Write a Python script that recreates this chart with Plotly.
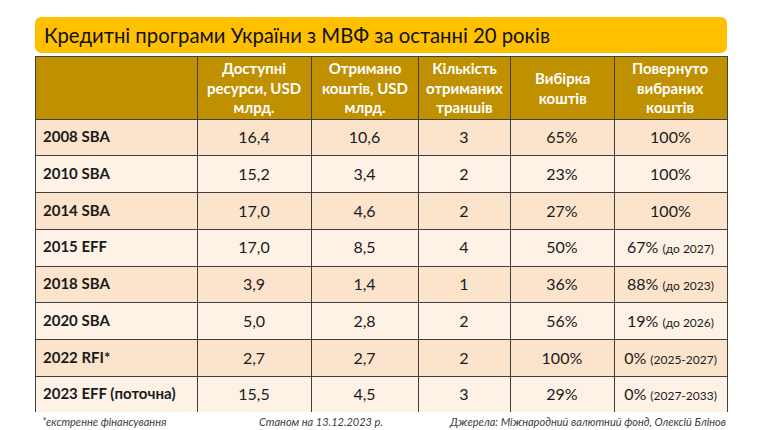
import plotly.graph_objects as go

# Кредитні програми МВФ
programs = ["2008 SBA", "2010 SBA", "2014 SBA", "2015 EFF", "2018 SBA", "2020 SBA", "2022 RFI*", "2023 EFF (поточна)"]
available = [16.4, 15.2, 17.0, 17.0, 3.9, 5.0, 2.7, 15.5]
received = [10.6, 3.4, 4.6, 8.5, 1.4, 2.8, 2.7, 4.5]
tranches = [3, 2, 2, 4, 1, 2, 2, 3]
drawn_pct = [65, 23, 27, 50, 36, 56, 100, 29]
repaid_pct = [100, 100, 100, 67, 88, 19, 0, 0]
repaid_note = ["", "", "", "до 2027", "до 2023", "до 2026", "2025-2027", "2027-2033"]

headers = ["", "Доступні<br>ресурси, USD<br>млрд.", "Отримано<br>коштів, USD<br>млрд.",
           "Кількість<br>отриманих<br>траншів", "Вибірка<br>коштів", "Повернуто<br>вибраних<br>коштів"]

def ua(v):
    return f"{v:.1f}".replace(".", ",")

col_repaid = []
for p, n in zip(repaid_pct, repaid_note):
    s = f"{p}%"
    if n:
        s += f" <span style='font-size:12px'>({n})</span>"
    col_repaid.append(s)

columns = [
    [f"<b>{p}</b>" for p in programs],
    [ua(v) for v in available],
    [ua(v) for v in received],
    [str(t) for t in tranches],
    [f"{d}%" for d in drawn_pct],
    col_repaid,
]
# <br> в кінці вимикає автоперенос таблиці (інакше span ріжеться по пробілах)
columns = [[c + "<br>" for c in col] for col in columns]

row_colors = ["#FCE4CC" if i % 2 == 0 else "#FEF2E7" for i in range(len(programs))]

W, H = 764, 430
x0, x1 = 35, 727
y_top, y_bot = 56, 413
head_h = 63
widths = [162, 114, 107, 92, 104, 113]
row_h = (y_bot - y_top - head_h) / len(programs)

fig = go.Figure(go.Table(
    domain=dict(x=[x0 / W, x1 / W], y=[1 - y_bot / H, 1 - y_top / H]),
    columnwidth=widths,
    header=dict(
        values=[""] * len(headers),
        fill_color="#BF9000",
        line=dict(color="#3F3F3F", width=1),
        height=head_h,
    ),
    cells=dict(
        values=columns,
        fill_color=[row_colors] * 6,
        line=dict(color="#3F3F3F", width=1),
        align=["left", "center", "center", "center", "center", "center"],
        font=dict(family="Lato", size=[15, 16, 16, 16, 16, 16], color="#1A1A1A"),
        height=row_h,
    ),
))

# заголовки колонок
left = x0
for w, h in zip(widths, headers):
    if h:
        fig.add_annotation(x=(left + w / 2) / W, y=1 - (y_top + head_h / 2) / H, xref="paper", yref="paper",
                           xanchor="center", yanchor="middle", align="center", showarrow=False,
                           text=f"<b>{h}</b>", font=dict(family="Lato", size=15, color="white"))
    left += w

# жовта плашка заголовка із заокругленими кутами
bt, bb, r = 17, 53, 7
def px(x):
    return x / W
def py(y):
    return 1 - y / H
path = (f"M {px(x0 + r)},{py(bt)} L {px(x1 - r)},{py(bt)} Q {px(x1)},{py(bt)} {px(x1)},{py(bt + r)} "
        f"L {px(x1)},{py(bb - r)} Q {px(x1)},{py(bb)} {px(x1 - r)},{py(bb)} "
        f"L {px(x0 + r)},{py(bb)} Q {px(x0)},{py(bb)} {px(x0)},{py(bb - r)} "
        f"L {px(x0)},{py(bt + r)} Q {px(x0)},{py(bt)} {px(x0 + r)},{py(bt)} Z")
fig.add_shape(type="path", xref="paper", yref="paper", path=path,
              fillcolor="#FFC000", line=dict(width=0), layer="below")
fig.add_annotation(x=42 / W, y=1 - 35 / H, xref="paper", yref="paper", xanchor="left", yanchor="middle",
                   text="Кредитні програми України з МВФ за останні 20 років", showarrow=False,
                   font=dict(family="Lato", size=20.3, color="#111111"))

foot = dict(family="Lato", size=11, color="#404040")
fig.add_annotation(x=40 / W, y=1 - 421 / H, xref="paper", yref="paper", xanchor="left", yanchor="middle",
                   text="<i>*екстренне фінансування</i>", showarrow=False, font=foot)
fig.add_annotation(x=321 / W, y=1 - 421 / H, xref="paper", yref="paper", xanchor="center", yanchor="middle",
                   text="<i>Станом на 13.12.2023 р.</i>", showarrow=False, font=foot)
fig.add_annotation(x=728 / W, y=1 - 421 / H, xref="paper", yref="paper", xanchor="right", yanchor="middle",
                   text="<i>Джерела: Міжнародний валютний фонд, Олексій Блінов</i>", showarrow=False, font=foot)

fig.update_layout(width=W, height=H, margin=dict(l=0, r=0, t=0, b=0),
                  paper_bgcolor="white", plot_bgcolor="white")

fig.write_html("out.html", config={"displayModeBar": False},
               post_script="document.body.style.margin='0';")
